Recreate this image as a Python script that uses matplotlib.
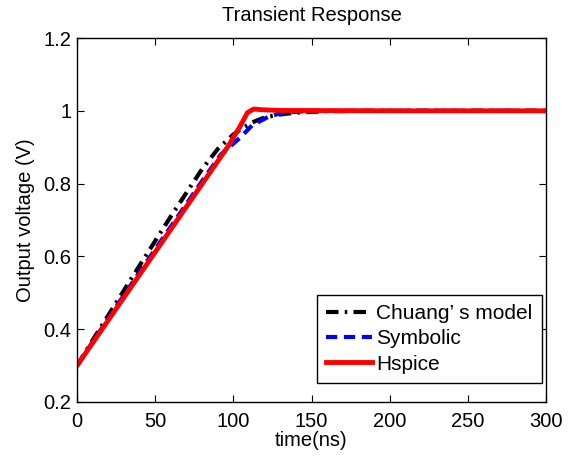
import matplotlib
matplotlib.use("Agg")
import matplotlib.pyplot as plt

plt.rcParams['font.family'] = ['Liberation Sans', 'DejaVu Sans']

# Data (time in ns, voltage in V)
t_chuang = [0, 10, 40, 60, 80, 90, 95, 100, 105, 112, 120, 130, 140, 160, 200, 300]
v_chuang = [0.30, 0.37, 0.575, 0.71, 0.84, 0.895, 0.915, 0.935, 0.95, 0.968, 0.982, 0.990, 0.995, 0.999, 1.0, 1.0]

t_symb = [0, 20, 40, 60, 80, 92, 100, 104, 112, 123, 132, 150, 200, 300]
v_symb = [0.30, 0.43, 0.557, 0.682, 0.807, 0.88, 0.91, 0.925, 0.96, 0.985, 0.995, 1.0, 1.0, 1.0]

t_hspice = [0, 50, 97, 104, 109, 113, 118, 130, 200, 300]
v_hspice = [0.30, 0.612, 0.905, 0.955, 0.995, 1.005, 1.003, 1.001, 1.0, 1.0]

labels = ["Chuang\u2019 s model", "Symbolic", "Hspice"]
xticks = [0, 50, 100, 150, 200, 250, 300]
yticks = [0.2, 0.4, 0.6, 0.8, 1.0, 1.2]
yticklabels = ["0.2", "0.4", "0.6", "0.8", "1", "1.2"]

fig = plt.figure(figsize=(5.75, 4.57), dpi=100)
ax = fig.add_axes([0.134, 0.1204, 0.8156, 0.7964])

ax.plot(t_chuang, v_chuang, color='black', lw=3, linestyle=(0, (3, 1.5, 0.6, 1.5)), label=labels[0])
ax.plot(t_symb, v_symb, color='blue', lw=3, linestyle=(0, (2.7, 1.6)), label=labels[1])
ax.plot(t_hspice, v_hspice, color='red', lw=3.5, label=labels[2])

ax.set_xlim(0, 300)
ax.set_ylim(0.2, 1.2)
ax.set_xticks(xticks)
ax.set_yticks(yticks)
ax.set_yticklabels(yticklabels)
ax.tick_params(direction='in', top=True, right=True, length=5, width=0.8, labelsize=14.5)
ax.tick_params(axis='x', pad=7)
ax.tick_params(axis='y', pad=4)
for s in ax.spines.values():
    s.set_linewidth(1.0)

ax.set_xlabel("time(ns)", fontsize=14.5, labelpad=0)
ax.set_ylabel("Output voltage (V)", fontsize=14.5, labelpad=6)
ax.set_title("Transient Response", fontsize=14.5, pad=12)

leg = ax.legend(loc='lower right', bbox_to_anchor=(0.9915, 0.052), fontsize=15,
                fancybox=False, edgecolor='black', framealpha=1,
                handlelength=2.2, handletextpad=0.2, borderpad=0.45,
                labelspacing=0.3, borderaxespad=0)
leg.get_frame().set_linewidth(1.0)

fig.savefig("out.png", dpi=100)
